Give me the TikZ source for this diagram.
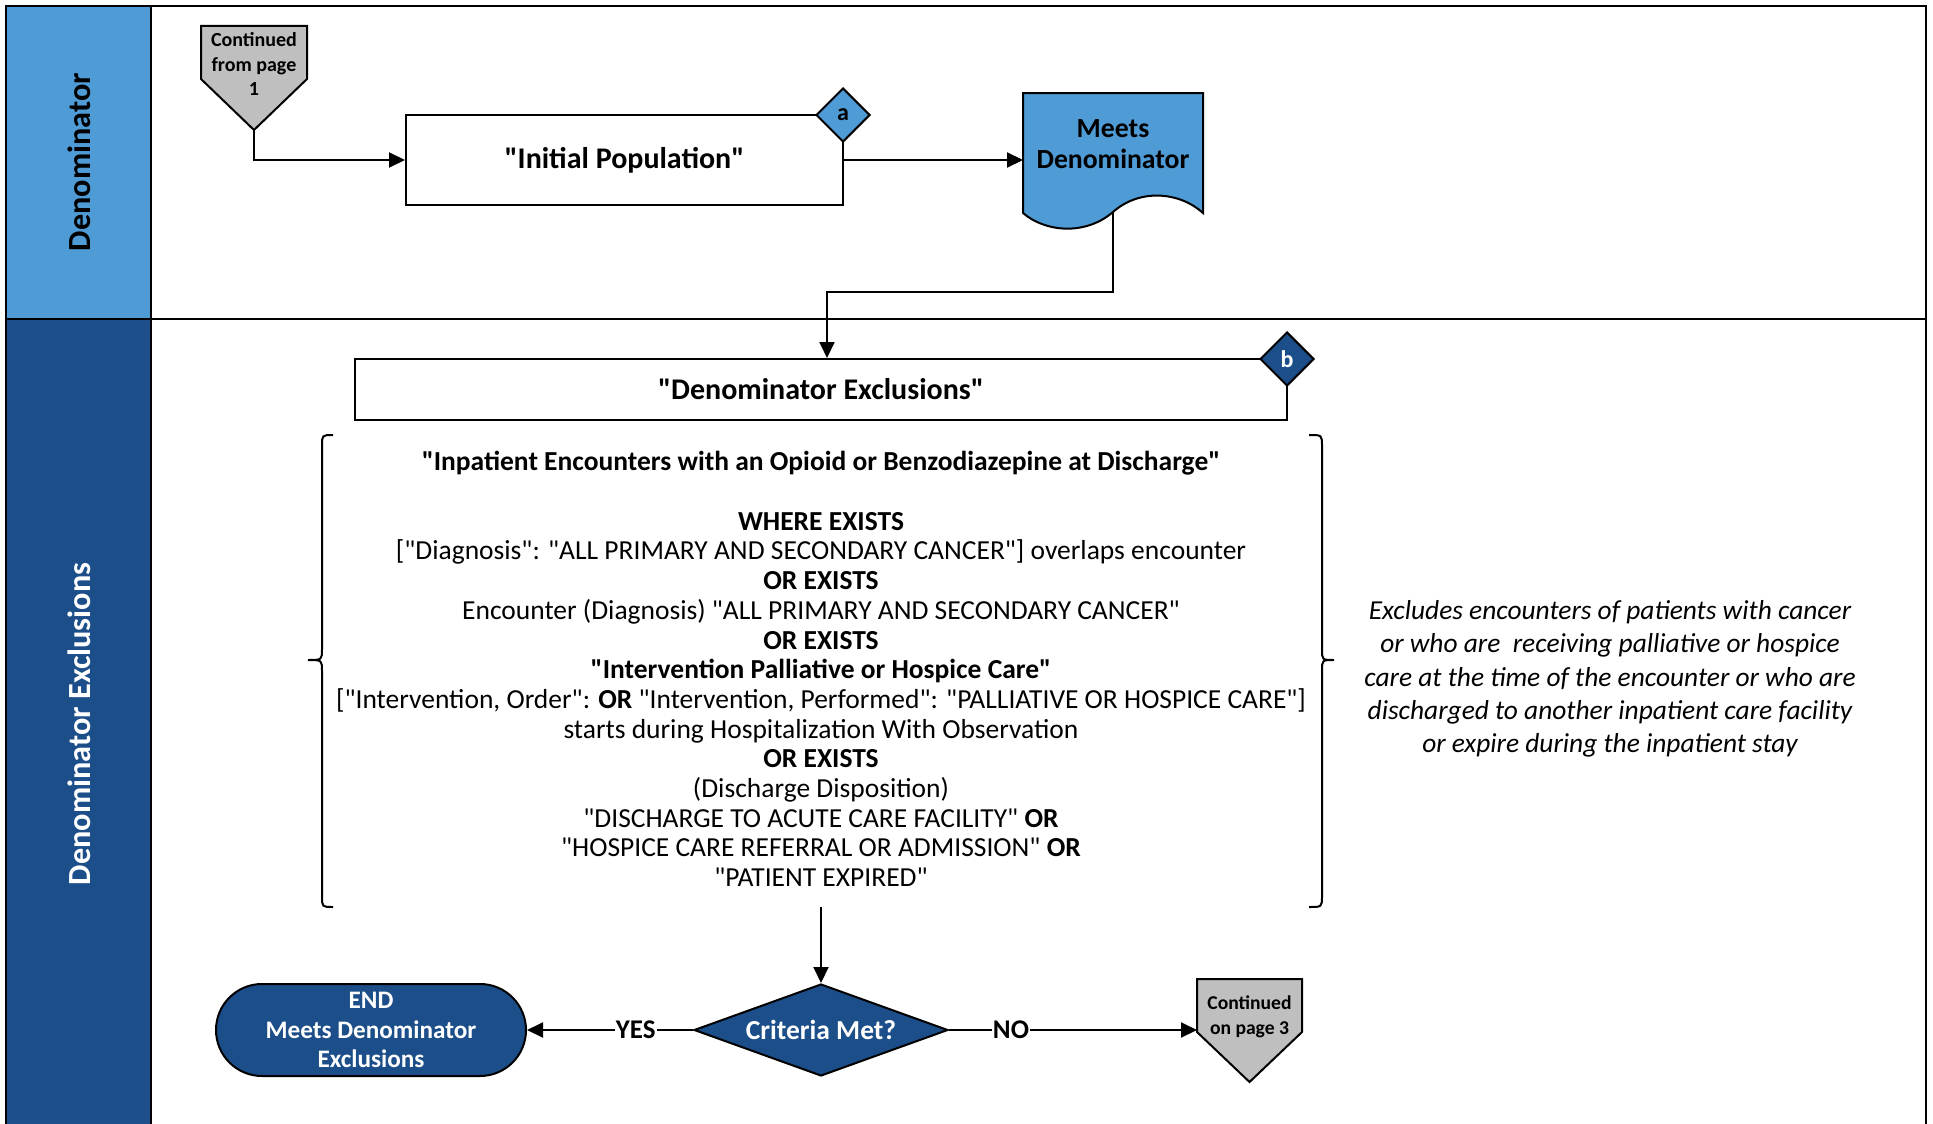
\documentclass[tikz,border=0pt]{standalone}
\usepackage{fontspec}
\newfontfamily\carl{Carlito}
\setmainfont{Carlito}
\usetikzlibrary{arrows.meta,shapes.geometric}
\definecolor{lblue}{RGB}{78,155,214}
\definecolor{dblue}{RGB}{28,78,137}
\definecolor{cgray}{RGB}{191,191,191}
\begin{document}
\begin{tikzpicture}[x=1pt,y=-1pt,line width=2pt,
  every node/.style={execute at begin node=\carl},
  conn/.style={line width=2pt,-{Triangle[length=16pt,width=15pt]}},
  procbox/.style={draw,fill=white,line width=2pt,inner sep=0pt,font=\bfseries\fontsize{30}{35}\selectfont},
  smalldia/.style={diamond,draw,line width=2pt,minimum width=54,minimum height=54,inner sep=0pt,font=\bfseries\fontsize{24}{26}\selectfont},
  offtxt/.style={font=\bfseries\fontsize{20}{24.6}\selectfont,align=center,inner sep=0pt},
  lanelbl/.style={rotate=90,font=\bfseries\fontsize{32.3}{38}\selectfont},
  edgelbl/.style={fill=white,inner sep=1pt,font=\bfseries\fontsize{27}{30}\selectfont}]
\useasboundingbox (0,0) rectangle (1933,1124);
% lanes
\fill[lblue] (6,6) rectangle (151,319);
\fill[dblue] (6,319) rectangle (151,1130);
\draw (6,1130) -- (6,6) -- (1926,6) -- (1926,1130);
\draw (151,6) -- (151,1130);
\draw[line width=1.6pt] (6,319) -- (1926,319);
\node[lanelbl] (lane1) at (79,162) {Denominator};
\node[lanelbl,text=white] (lane2) at (79,724) {Denominator Exclusions};
% continued from page 1
\draw[fill=cgray] (201,26) -- (307,26) -- (307,79) -- (254,130) -- (201,79) -- cycle;
\node[offtxt] (c1) at (254,64) {Continued\\from page\\1};
\coordinate (c1tip) at (254,130);
% initial population
\node[procbox,minimum width=437,minimum height=90] (ip) at (624.5,160) {"Initial Population"};
\node[smalldia,fill=lblue] (da) at (843,115) {a};
% meets denominator document
\draw[fill=lblue] (1023,93) -- (1203,93) -- (1203,213) .. controls (1180,192) and (1140,188) .. (1113,212) .. controls (1085,236) and (1045,232) .. (1023,213) -- cycle;
\node[font=\bfseries\fontsize{27.7}{31}\selectfont,align=center] (md) at (1113,144) {Meets\\Denominator};
\coordinate (mdw) at (1023,160);
\coordinate (mdb) at (1113,212);
% denominator exclusions
\node[procbox,minimum width=932,minimum height=61] (de) at (821,389.5) {"Denominator Exclusions"};
\node[smalldia,fill=dblue,text=white] (db) at (1287,359) {b};
% braces
\draw[line width=2pt] (333,435) .. controls (322,435) .. (322,446) -- (322,649) .. controls (322,660) .. (308,660) .. controls (322,660) .. (322,671) -- (322,896) .. controls (322,907) .. (333,907);
\draw[line width=2pt] (1309,435) .. controls (1322,435) .. (1322,446) -- (1322,649) .. controls (1322,660) .. (1334,660) .. controls (1322,660) .. (1322,671) -- (1322,896) .. controls (1322,907) .. (1309,907);
\node[align=center,inner sep=0pt,font=\fontsize{27.5}{29.67}\selectfont] (excl) at (821,669) {%
\textbf{"Inpatient Encounters with an Opioid or Benzodiazepine at Discharge"}\\[29.67pt]
\textbf{WHERE EXISTS}\\{}%
["Diagnosis": "ALL PRIMARY AND SECONDARY CANCER"] overlaps encounter\\
\textbf{OR EXISTS}\\
Encounter (Diagnosis) "ALL PRIMARY AND SECONDARY CANCER"\\
\textbf{OR EXISTS}\\
\textbf{"Intervention Palliative or Hospice Care"}\\{}%
["Intervention, Order": \textbf{OR} "Intervention, Performed": "PALLIATIVE OR HOSPICE CARE"]\\
starts during Hospitalization With Observation\\
\textbf{OR EXISTS}\\
(Discharge Disposition)\\
"DISCHARGE TO ACUTE CARE FACILITY" \textbf{OR}\\
"HOSPICE CARE REFERRAL OR ADMISSION" \textbf{OR}\\
"PATIENT EXPIRED"};
\coordinate (exclb) at (821,907);
% note
\node[align=center,inner sep=0pt,font=\itshape\fontsize{27.4}{33.2}\selectfont] (note) at (1610,679) {Excludes encounters of patients with cancer\\
or who are\ \ receiving palliative or hospice\\
care at the time of the encounter or who are\\
discharged to another inpatient care facility\\
or expire during the inpatient stay};
% bottom row
\node[diamond,draw,fill=dblue,text=white,minimum width=254,minimum height=92,aspect=2.76,inner sep=0pt,font=\bfseries\fontsize{27.5}{31}\selectfont] (cm) at (821,1030) {Criteria Met?};
\node[draw,fill=dblue,text=white,rounded corners=46pt,minimum width=310,minimum height=92,align=center,inner sep=0pt,font=\bfseries\fontsize{25.2}{29.6}\selectfont] (end) at (371,1030) {END\\Meets Denominator\\Exclusions};
\draw[fill=cgray] (1197,979) -- (1302,979) -- (1302,1032) -- (1249.5,1082) -- (1197,1032) -- cycle;
\node[offtxt,font=\bfseries\fontsize{19.6}{24.6}\selectfont] (c3) at (1249.5,1017) {Continued\\on page 3};
\coordinate (c3w) at (1197,1030);
% connectors
\draw[conn] (c1tip) |- (ip.west);
\draw[conn] (ip.east) -- (mdw);
\draw[conn] (mdb) -- (mdb |- 0,292) -| ([xshift=6pt]de.north);
\draw[conn] (exclb) -- (cm.north);
\draw[conn] (cm.west) -- node[edgelbl,pos=0.345] (yes) {YES} (end.east);
\draw[conn] (cm.east) -- node[edgelbl,pos=0.25] (no) {NO} (c3w);
\end{tikzpicture}
\end{document}
